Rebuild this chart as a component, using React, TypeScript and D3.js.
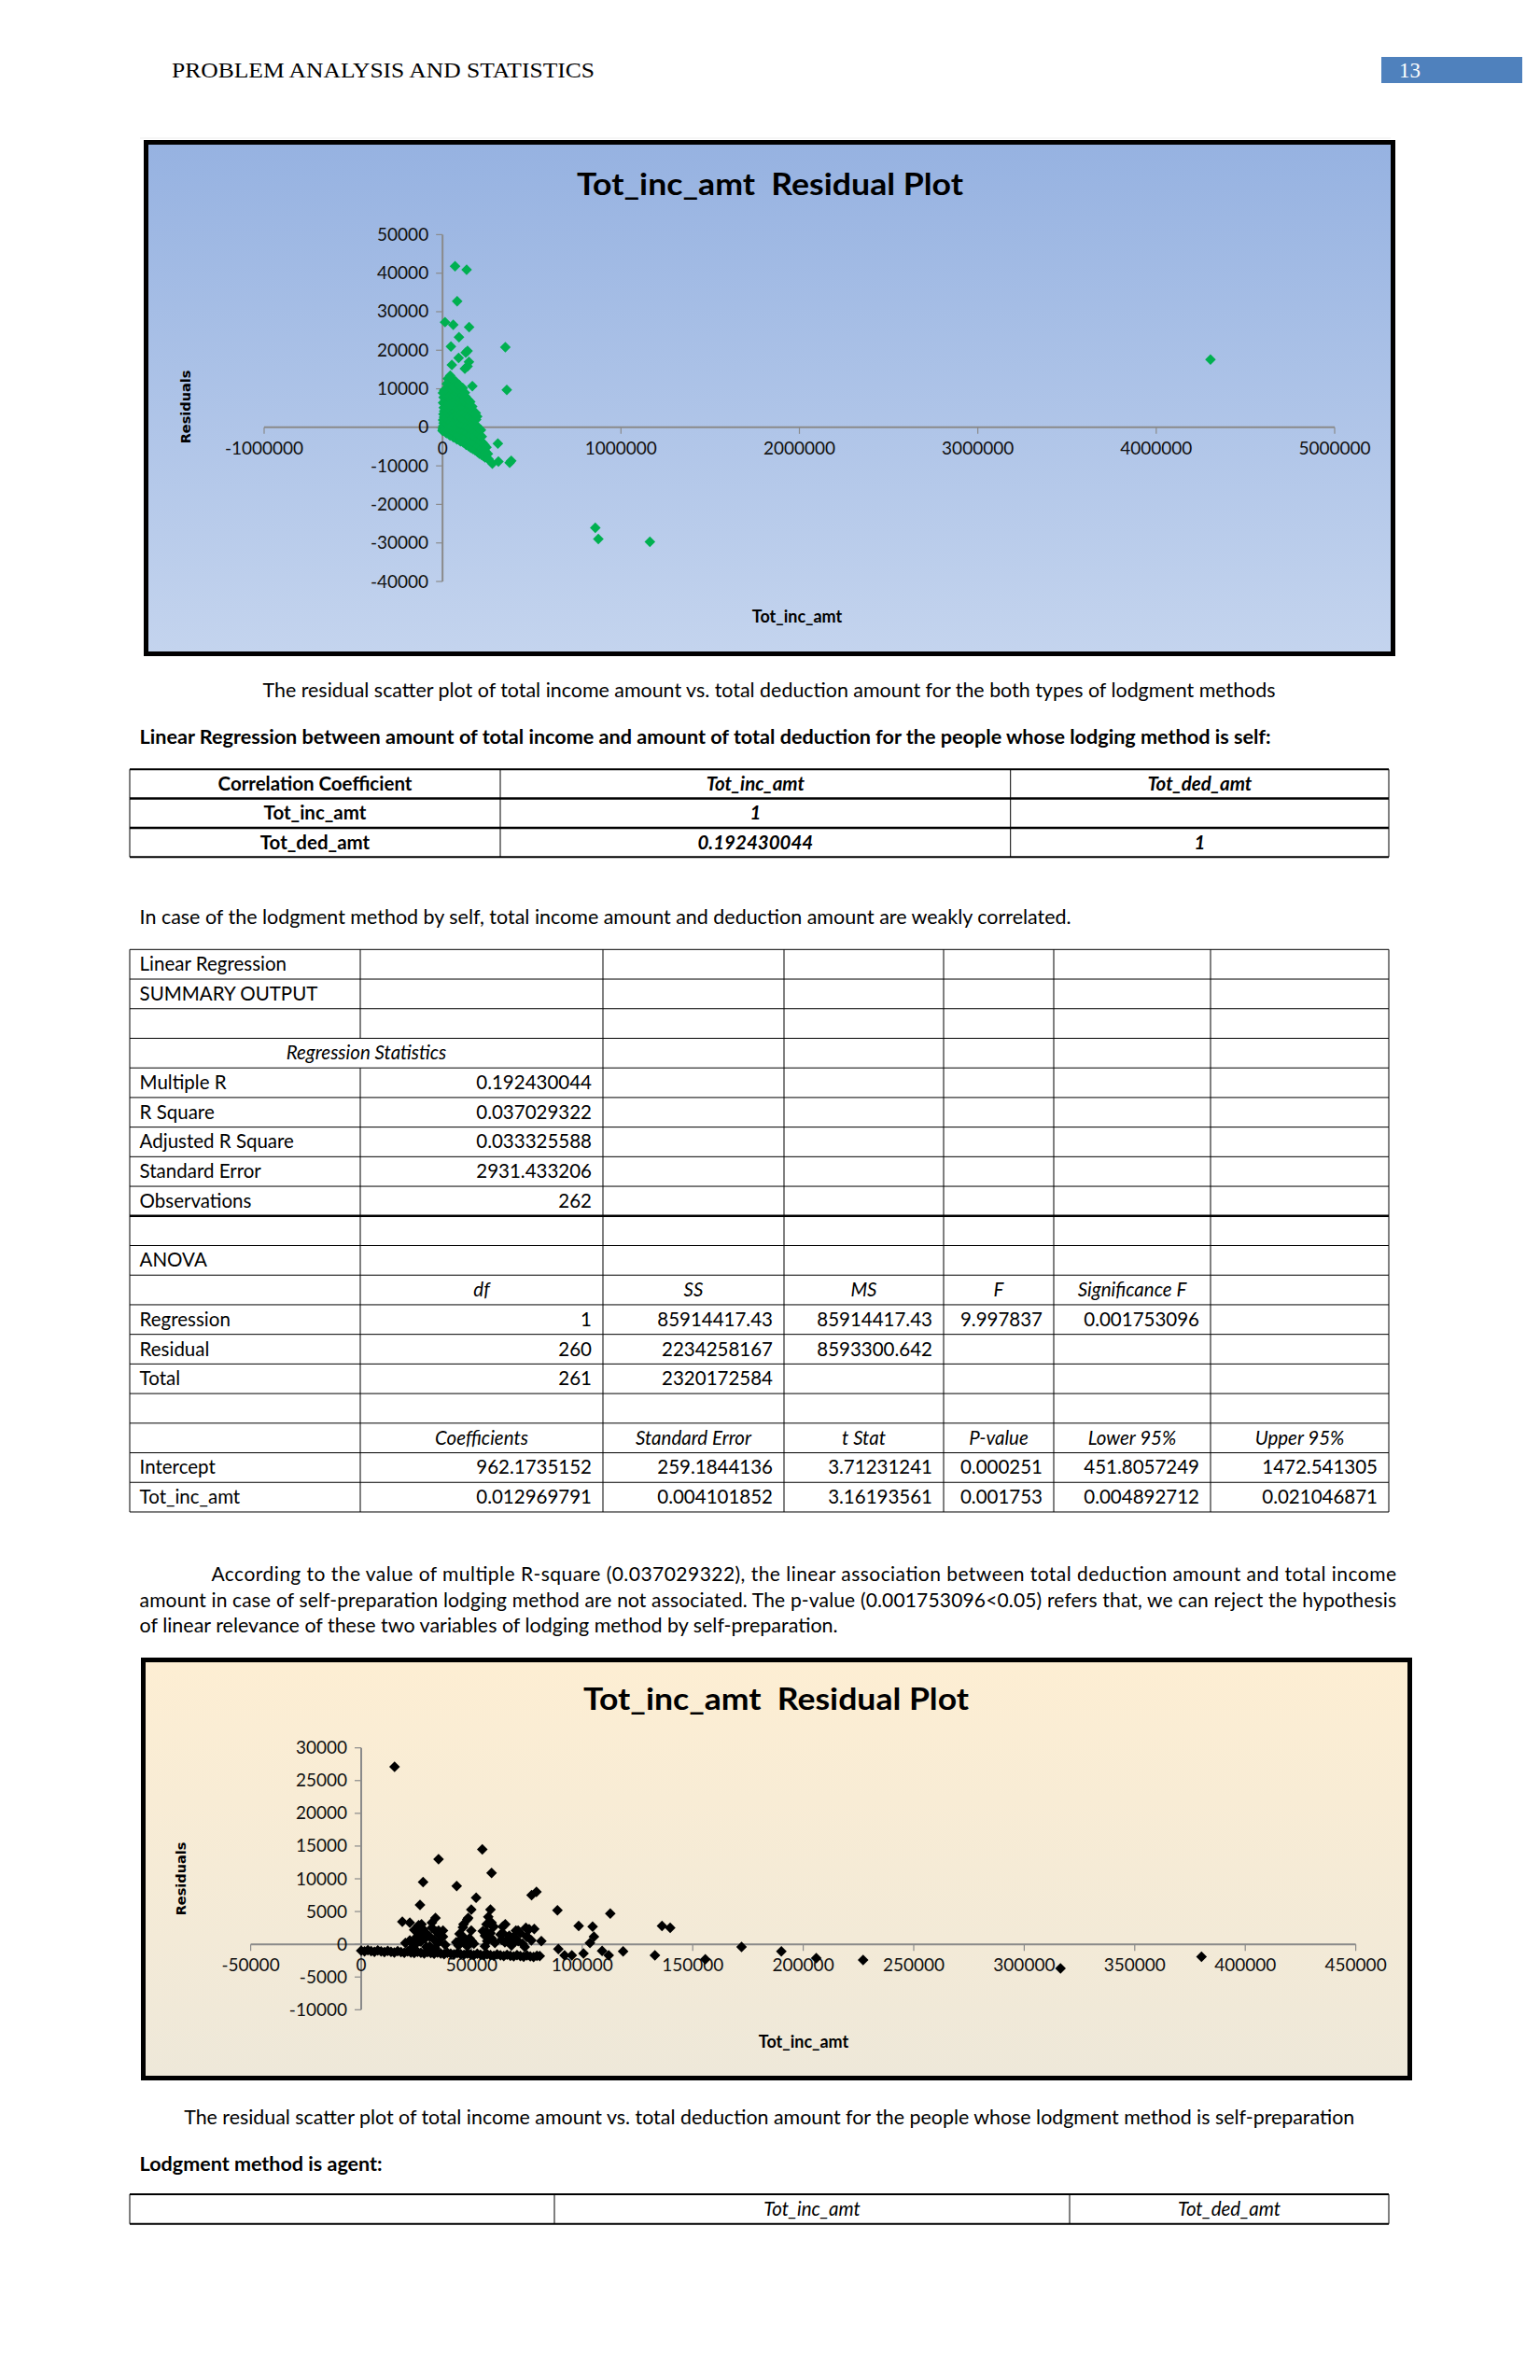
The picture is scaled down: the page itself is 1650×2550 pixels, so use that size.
import React from 'react';
import * as d3 from 'd3';

const W = 1650;
const H = 2550;
const SANS = 'Lato, "Open Sans", sans-serif';
const SERIF = '"Liberation Serif", "DejaVu Serif", serif';

// ---------------- Chart 1 data (both lodgment methods) ----------------
const chart1XTicks = [-1000000, 0, 1000000, 2000000, 3000000, 4000000, 5000000];
const chart1YTicks = [-40000, -30000, -20000, -10000, 0, 10000, 20000, 30000, 40000, 50000];
const chart1Outliers: [number, number][] = [
  [70000, 41800], [135000, 40900], [82000, 32700], [14000, 27300], [60000, 26600],
  [149000, 26000], [92000, 23400], [47000, 21000], [352000, 20800], [140000, 19800],
  [130000, 19400], [90000, 18000], [148000, 17000], [52000, 16200], [140000, 15800],
  [125000, 15200], [43000, 13400], [167000, 10700], [360000, 9700], [186000, 3700],
  [310000, -4200], [279000, -9400], [313000, -8900], [376000, -9200], [385000, -8700],
  [856000, -26100], [873000, -29000], [1162000, -29700], [4304000, 17600],
];
const chart1Cluster: [number, number][] = [
  [0, -900], [1000, -200], [2000, -600], [4000, 300], [6000, 1100], [3000, 1900], [8000, 2600],
  [5000, 3400], [10000, -900], [12000, 500], [9000, 4200], [14000, 1500], [7000, 5100],
  [16000, 3000], [11000, 6000], [18000, -1300], [15000, 7200], [19000, 4600], [13000, 8600],
  [20000, 2100], [17000, 9500], [3000, 6400], [6000, 7800], [9000, 9600], [2000, 8900],
  [22000, -1500], [24000, -400], [26000, 800], [23000, 2400], [28000, 3700], [25000, 5200],
  [30000, 6500], [27000, 7900], [32000, 9300], [29000, 10400], [34000, 11200], [36000, -1800],
  [38000, 300], [35000, 1800], [37000, 3100], [39000, 4700], [33000, 6000], [40000, 8000],
  [31000, -700], [38000, 12000], [24000, 11300], [30000, 12600],
  [42000, -2100], [44000, -1000], [46000, 200], [48000, 1500], [45000, 2900], [50000, 4300],
  [47000, 5700], [52000, 7100], [49000, 8500], [54000, 9800], [51000, 11000], [56000, 12300],
  [58000, -2400], [60000, -1200], [57000, 600], [55000, 2200], [59000, 3600], [53000, 6400],
  [60000, 10700], [46000, 12900],
  [62000, -2600], [64000, -1400], [66000, -100], [68000, 1300], [65000, 2800], [70000, 4200],
  [67000, 5600], [72000, 7000], [69000, 8400], [74000, 9700], [71000, 11100], [76000, -2900],
  [78000, -1600], [80000, 100], [77000, 1900], [79000, 3300], [75000, 6200], [80000, 8800],
  [73000, 11900], [63000, 10300],
  [82000, -3100], [84000, -1900], [86000, -500], [88000, 900], [85000, 2400], [90000, 3900],
  [87000, 5300], [92000, 6700], [89000, 8100], [94000, 9400], [91000, 10600], [96000, -3400],
  [98000, -2100], [100000, -700], [97000, 1200], [99000, 2900], [95000, 4800], [100000, 7600],
  [93000, 11000],
  [102000, -3600], [105000, -2200], [108000, -800], [104000, 700], [110000, 2200], [106000, 3800],
  [112000, 5200], [107000, 6900], [114000, 8300], [109000, 9600], [116000, -3900], [119000, -2500],
  [122000, -1000], [118000, 600], [124000, 2100], [120000, 3700], [126000, 5300], [121000, 6800],
  [128000, 8000], [113000, 10200], [130000, -4300], [127000, -2800], [125000, 9000],
  [132000, -4500], [135000, -3000], [138000, -1500], [134000, 100], [140000, 1600], [136000, 3100],
  [142000, 4600], [137000, 6100], [144000, 7100], [146000, -4900], [149000, -3400], [152000, -1900],
  [148000, -300], [154000, 1300], [150000, 2800], [156000, 4300], [151000, 5800], [158000, -5300],
  [160000, -3700], [157000, -2100], [155000, 6600],
  [162000, -600], [165000, 1000], [163000, 2500], [168000, 4000], [166000, 5400], [170000, -5600],
  [173000, -4000], [176000, -2400], [172000, -800], [178000, 800], [175000, 2300], [180000, 3500],
  [183000, -6000], [186000, -4400], [189000, -2800], [185000, -1200], [191000, 400], [188000, 2000],
  [194000, 2800], [196000, -6400], [199000, -4800], [200000, -3200], [197000, -1600], [202000, -200],
  [206000, -6800], [209000, -5200], [212000, -3600], [208000, -2000], [215000, -700], [218000, -7100],
  [221000, -5600], [224000, -4000], [220000, -2400], [228000, -7400], [231000, -6000], [234000, -4500],
  [238000, -7800], [242000, -6400], [246000, -5200], [250000, -8000], [254000, -6900], [258000, -8300],
];

// ---------------- Chart 2 data (self-preparation) ----------------
const chart2XTicks = [-50000, 0, 50000, 100000, 150000, 200000, 250000, 300000, 350000, 400000, 450000];
const chart2YTicks = [-10000, -5000, 0, 5000, 10000, 15000, 20000, 25000, 30000];
const chart2Outliers: [number, number][] = [
  [15100, 27100], [54800, 14500], [35000, 13000], [59000, 10900], [28000, 9500], [43200, 8900],
  [79300, 8000], [77100, 7500], [52000, 7100], [26600, 6000], [88800, 5200], [49800, 5300],
  [58500, 5300], [112700, 4700], [48400, 4000], [33600, 4000], [18600, 3450], [22000, 3300],
  [32000, 3300], [27300, 3060], [46300, 3060], [56700, 3060], [65200, 3060], [59000, 3300],
  [98400, 2800], [104700, 2700], [136100, 2800], [139800, 2500], [78300, 2350], [71000, 2100],
  [35000, 2100], [26600, 2100], [49800, 2100], [56700, 1900], [64100, 1700], [25200, 1170],
  [31000, 1170], [37000, 1170], [69000, 1170], [74900, 1170], [105300, 1170], [26400, 500],
  [57700, 930], [63500, 700], [69800, 500], [66000, 500], [81500, 500], [103500, 200],
  [46600, 200], [89200, -730], [172100, -400], [92000, -1680], [95300, -1680], [100600, -1400],
  [109000, -1000], [112000, -1680], [118500, -1100], [132900, -1680], [190100, -1100],
  [80800, -1800], [155700, -2300], [205900, -2100], [227100, -2400], [316400, -3700],
  [380200, -1900],
];
const chart2Band: [number, number][] = [
  [0, -970], [1500, -1100], [3000, -900], [4500, -1050], [6000, -1150], [7500, -950], [9000, -1100],
  [10500, -1200], [12000, -1000], [13500, -1150], [15000, -1250], [16500, -1050], [18000, -1200],
  [19500, -1300], [21000, -1100], [22500, -1250], [24000, -1350], [25500, -1150], [27000, -1300],
  [28500, -1400], [30000, -1200], [31500, -1350], [33000, -1450], [34500, -1250], [36000, -1400],
  [37500, -1500], [39000, -1300], [40500, -1450], [42000, -1550], [43500, -1350], [45000, -1500],
  [46500, -1600], [48000, -1400], [49500, -1550], [51000, -1650], [52500, -1450], [54000, -1600],
  [55500, -1700], [57000, -1500], [58500, -1650], [60000, -1750], [61500, -1550], [63000, -1700],
  [64500, -1800], [66000, -1600], [67500, -1750], [69000, -1850], [70500, -1650], [72000, -1800],
  [73500, -1900], [75000, -1700], [76500, -1850], [78000, -1950], [79500, -1750],
  [20000, 200], [22000, 600], [24000, -200], [25000, 1000], [26000, 1700], [27000, 400],
  [28000, 2300], [29000, 900], [30000, 1500], [31000, -300], [32000, 2500], [33000, 700],
  [34000, 1900], [35000, 300], [36000, 1200], [37000, 2100], [38000, -100], [24000, 2200],
  [26000, 2900], [28000, 1400], [23000, -500], [29500, -400], [33500, -600],
  [43000, 300], [44000, -200], [45000, 700], [46000, 1200], [47000, 200], [48000, -300],
  [49000, 900], [50000, 500], [51000, 100], [46000, 2600], [48000, 3800], [44500, 1600],
  [55000, 2000], [56000, 1300], [57000, 500], [58000, 3200], [58500, 1700], [59000, 900],
  [60000, 2700], [57500, 4200], [60500, 200], [56000, -300],
  [63000, 1500], [64000, 2700], [65000, 300], [66000, 700], [67000, 1300], [68000, -200],
  [69000, 900], [70000, 2100], [71000, 500], [72000, 1700], [73000, 100], [74000, -400],
  [75000, 1200], [76000, 2300], [77000, 600], [74500, 2500],
];

// ---------------- Table data ----------------
const corrHeader = ['Correlation Coefficient', 'Tot_inc_amt', 'Tot_ded_amt'];
const corrRows = [
  ['Tot_inc_amt', '1', ''],
  ['Tot_ded_amt', '0.192430044', '1'],
];
const regRows: string[][] = [
  ['Linear Regression', '', '', '', '', '', ''],
  ['SUMMARY OUTPUT', '', '', '', '', '', ''],
  ['', '', '', '', '', '', ''],
  ['Regression Statistics', '', '', '', '', '', ''],
  ['Multiple R', '0.192430044', '', '', '', '', ''],
  ['R Square', '0.037029322', '', '', '', '', ''],
  ['Adjusted R Square', '0.033325588', '', '', '', '', ''],
  ['Standard Error', '2931.433206', '', '', '', '', ''],
  ['Observations', '262', '', '', '', '', ''],
  ['', '', '', '', '', '', ''],
  ['ANOVA', '', '', '', '', '', ''],
  ['', 'df', 'SS', 'MS', 'F', 'Significance F', ''],
  ['Regression', '1', '85914417.43', '85914417.43', '9.997837', '0.001753096', ''],
  ['Residual', '260', '2234258167', '8593300.642', '', '', ''],
  ['Total', '261', '2320172584', '', '', '', ''],
  ['', '', '', '', '', '', ''],
  ['', 'Coefficients', 'Standard Error', 't Stat', 'P-value', 'Lower 95%', 'Upper 95%'],
  ['Intercept', '962.1735152', '259.1844136', '3.71231241', '0.000251', '451.8057249', '1472.541305'],
  ['Tot_inc_amt', '0.012969791', '0.004101852', '3.16193561', '0.001753', '0.004892712', '0.021046871'],
];
const regItalicRows = [3, 11, 16];
const agentHeader = ['', 'Tot_inc_amt', 'Tot_ded_amt'];

// ---------------- Scatter chart ----------------
type ChartCfg = {
  box: { x: number; y: number; w: number; h: number };
  grad: [string, string];
  id: string;
  xRange: [number, number];
  yRange: [number, number];
  titleX: number; titleY: number; titleLen: number;
  resX: number; resY: number;
  axTitleX: number; axTitleY: number;
  color: string;
};

function Scatter({ cfg, points, xTicks, yTicks }: { cfg: ChartCfg; points: [number, number][]; xTicks: number[]; yTicks: number[] }) {
  const x = d3.scaleLinear().domain([xTicks[0], xTicks[xTicks.length - 1]]).range(cfg.xRange);
  const y = d3.scaleLinear().domain([yTicks[0], yTicks[yTicks.length - 1]]).range(cfg.yRange);
  const x0 = x(0);
  const y0 = y(0);
  const marker = d3.symbol().type(d3.symbolSquare).size(66)() as string;
  const axisColor = '#8a8a8a';
  const b = cfg.box;
  return (
    <g>
      <defs>
        <linearGradient id={cfg.id} x1="0" y1="0" x2="0" y2="1">
          <stop offset="0" stopColor={cfg.grad[0]} />
          <stop offset="1" stopColor={cfg.grad[1]} />
        </linearGradient>
      </defs>
      <rect x={b.x} y={b.y} width={b.w} height={b.h} fill={`url(#${cfg.id})`} stroke="#000" strokeWidth={5} />
      <text x={cfg.titleX} y={cfg.titleY} textAnchor="middle" fontFamily={SANS} fontWeight={700} fontSize={32}
        textLength={cfg.titleLen} lengthAdjust="spacingAndGlyphs">{'Tot_inc_amt\u00A0 Residual Plot'}</text>
      {/* axes */}
      <line x1={x.range()[0]} x2={x.range()[1]} y1={y0} y2={y0} stroke={axisColor} strokeWidth={2} />
      <line x1={x0} x2={x0} y1={y.range()[0]} y2={y.range()[1]} stroke={axisColor} strokeWidth={2} />
      {xTicks.map((t) => (
        <g key={'xt' + t}>
          <line x1={x(t)} x2={x(t)} y1={y0} y2={y0 + 7} stroke={axisColor} strokeWidth={1.2} />
          <text x={x(t)} y={y0 + 29} textAnchor="middle" fontFamily={SANS} fontSize={19} fill="#111">{t}</text>
        </g>
      ))}
      {yTicks.map((t) => (
        <g key={'yt' + t}>
          <line x1={x0 - 7} x2={x0} y1={y(t)} y2={y(t)} stroke={axisColor} strokeWidth={1.2} />
          <text x={x0 - 15} y={y(t) + 6.5} textAnchor="end" fontFamily={SANS} fontSize={19} fill="#111">{t}</text>
        </g>
      ))}
      <text transform={`translate(${cfg.resX},${cfg.resY}) rotate(-90)`} textAnchor="middle" dy="5"
        fontFamily='"DejaVu Sans", sans-serif' fontWeight={700} fontSize={14.5}>Residuals</text>
      <text x={cfg.axTitleX} y={cfg.axTitleY} textAnchor="middle" fontFamily={SANS} fontWeight={700} fontSize={18}>Tot_inc_amt</text>
      {points.map((p, i) => (
        <path key={i} d={marker} transform={`translate(${x(p[0])},${y(p[1])}) rotate(45)`} fill={cfg.color} />
      ))}
    </g>
  );
}

const chart1Cfg: ChartCfg = {
  box: { x: 156.5, y: 152.5, w: 1336, h: 548 },
  grad: ['#96b2e1', '#c4d4ee'],
  id: 'g1',
  xRange: [283, 1430],
  yRange: [623, 251.4],
  titleX: 825, titleY: 209, titleLen: 414,
  resX: 199, resY: 436,
  axTitleX: 854, axTitleY: 667,
  color: '#00b050',
};

const chart2Cfg: ChartCfg = {
  box: { x: 153.5, y: 1778.5, w: 1357, h: 448 },
  grad: ['#fdeed3', '#eee8d9'],
  id: 'g2',
  xRange: [268.6, 1452.6],
  yRange: [2153.3, 1872.7],
  titleX: 831.5, titleY: 1832, titleLen: 413,
  resX: 193.5, resY: 2013,
  axTitleX: 861, axTitleY: 2194,
  color: '#000',
};

// ---------------- Text helpers ----------------
function T(props: any) {
  const { children, ...rest } = props;
  return <text fontFamily={SANS} fontSize={20.5} fill="#000" {...rest}>{children}</text>;
}

function GridTable({ top, rowH, cols, nRows, thickTop, thickLines, omit }: any) {
  const lines: any[] = [];
  for (let r = 0; r <= nRows; r++) {
    const yy = top + r * rowH;
    const sw = thickLines && thickLines.includes(r) ? 2.5 : (thickTop && (r === 0 || r === nRows) ? 2 : 1);
    lines.push(<line key={'h' + r} x1={cols[0]} x2={cols[cols.length - 1]} y1={yy} y2={yy} stroke="#000" strokeWidth={sw} />);
  }
  for (let c = 0; c < cols.length; c++) {
    for (let r = 0; r < nRows; r++) {
      if (omit && omit.some((o: number[]) => o[0] === r && o[1] === c)) continue;
      lines.push(<line key={'v' + c + '_' + r} x1={cols[c]} x2={cols[c]} y1={top + r * rowH} y2={top + (r + 1) * rowH} stroke="#000" strokeWidth={1} />);
    }
  }
  return <g>{lines}</g>;
}

export default function App() {
  const t1Top = 824.3, t1H = 31.3;
  const t1Cols = [139, 536, 1082.7, 1488];
  const t2Top = 1017.3, t2H = 31.72;
  const t2Cols = [139, 386, 646, 840, 1011, 1129, 1297, 1488];
  const t3Top = 2351, t3H = 31.7;
  const t3Cols = [139, 594, 1146, 1488];

  const c1 = (i: number) => (t1Cols[i] + t1Cols[i + 1]) / 2;
  const c3 = (i: number) => (t3Cols[i] + t3Cols[i + 1]) / 2;

  return (
    <svg width={W} height={H} viewBox={`0 0 ${W} ${H}`} style={{ position: 'absolute', left: 0, top: 0, display: 'block' }}>
      <rect x={0} y={0} width={W} height={H} fill="#fff" />
      {/* Header */}
      <text x={184} y={83} fontFamily={SERIF} fontSize={24} textLength={453} lengthAdjust="spacingAndGlyphs">PROBLEM ANALYSIS AND STATISTICS</text>
      <rect x={1480} y={61} width={151} height={28} fill="#4f81bd" />
      <text x={1499} y={83} fontFamily={SERIF} fontSize={23} fill="#fff">13</text>
      <line x1={150} x2={1490} y1={148} y2={148} stroke="#eeeeee" strokeWidth={1} />

      <Scatter cfg={chart1Cfg} points={[...chart1Cluster, ...chart1Outliers]} xTicks={chart1XTicks} yTicks={chart1YTicks} />

      <T x={824} y={747} textAnchor="middle" textLength={1085} lengthAdjust="spacingAndGlyphs">The residual scatter plot of total income amount vs. total deduction amount for the both types of lodgment methods</T>
      <T x={149.6} y={797} fontWeight={700} textLength={1212} lengthAdjust="spacingAndGlyphs">Linear Regression between amount of total income and amount of total deduction for the people whose lodging method is self:</T>

      {/* Table 1 */}
      <GridTable top={t1Top} rowH={t1H} cols={t1Cols} nRows={3} thickTop thickLines={[1, 2]} />
      {corrHeader.map((h, i) => (
        <T key={'ch' + i} x={c1(i)} y={t1Top + t1H / 2 + 7} textAnchor="middle" fontWeight={700} fontStyle={i > 0 ? 'italic' : 'normal'}>{h}</T>
      ))}
      {corrRows.map((row, r) => row.map((cell, i) => (
        <T key={'cr' + r + i} x={c1(i)} y={t1Top + (r + 1) * t1H + t1H / 2 + 7} textAnchor="middle" fontWeight={700} fontStyle={i > 0 ? 'italic' : 'normal'}>{cell}</T>
      )))}

      <T x={149.6} y={990} textLength={998} lengthAdjust="spacingAndGlyphs">In case of the lodgment method by self, total income amount and deduction amount are weakly correlated.</T>

      {/* Table 2 */}
      <GridTable top={t2Top} rowH={t2H} cols={t2Cols} nRows={regRows.length} thickLines={[9]} omit={[[3, 1]]} />
      {regRows.map((row, r) => {
        const yy = t2Top + r * t2H + t2H / 2 + 7;
        if (r === 3) {
          return <T key={'r' + r} x={(t2Cols[0] + t2Cols[2]) / 2} y={yy} textAnchor="middle" fontStyle="italic">{row[0]}</T>;
        }
        const italic = regItalicRows.includes(r);
        return row.map((cell, i) => {
          if (!cell) return null;
          if (italic) {
            return <T key={'r' + r + '_' + i} x={(t2Cols[i] + t2Cols[i + 1]) / 2} y={yy} textAnchor="middle" fontStyle="italic">{cell}</T>;
          }
          if (i === 0) return <T key={'r' + r + '_' + i} x={t2Cols[0] + 10.6} y={yy}>{cell}</T>;
          return <T key={'r' + r + '_' + i} x={t2Cols[i + 1] - 12} y={yy} textAnchor="end">{cell}</T>;
        });
      })}

      {/* Paragraph */}
      <T x={226.4} y={1694} fontSize={21} textLength={1269.6} lengthAdjust="spacing">According to the value of multiple R-square (0.037029322), the linear association between total deduction amount and total income</T>
      <T x={149.6} y={1722} fontSize={21} textLength={1346.4} lengthAdjust="spacing">amount in case of self-preparation lodging method are not associated. The p-value (0.001753096&lt;0.05) refers that, we can reject the hypothesis</T>
      <T x={149.6} y={1749} fontSize={21} textLength={748} lengthAdjust="spacingAndGlyphs">of linear relevance of these two variables of lodging method by self-preparation.</T>

      <Scatter cfg={chart2Cfg} points={[...chart2Band, ...chart2Outliers]} xTicks={chart2XTicks} yTicks={chart2YTicks} />

      <T x={824.2} y={2276} textAnchor="middle" textLength={1254} lengthAdjust="spacingAndGlyphs">The residual scatter plot of total income amount vs. total deduction amount for the people whose lodgment method is self-preparation</T>
      <T x={149.6} y={2326} fontWeight={700} textLength={260} lengthAdjust="spacingAndGlyphs">Lodgment method is agent:</T>

      {/* Table 3 */}
      <GridTable top={t3Top} rowH={t3H} cols={t3Cols} nRows={1} thickTop />
      {agentHeader.map((h, i) => h ? (
        <T key={'ah' + i} x={c3(i)} y={t3Top + t3H / 2 + 7} textAnchor="middle" fontStyle="italic">{h}</T>
      ) : null)}
    </svg>
  );
}
